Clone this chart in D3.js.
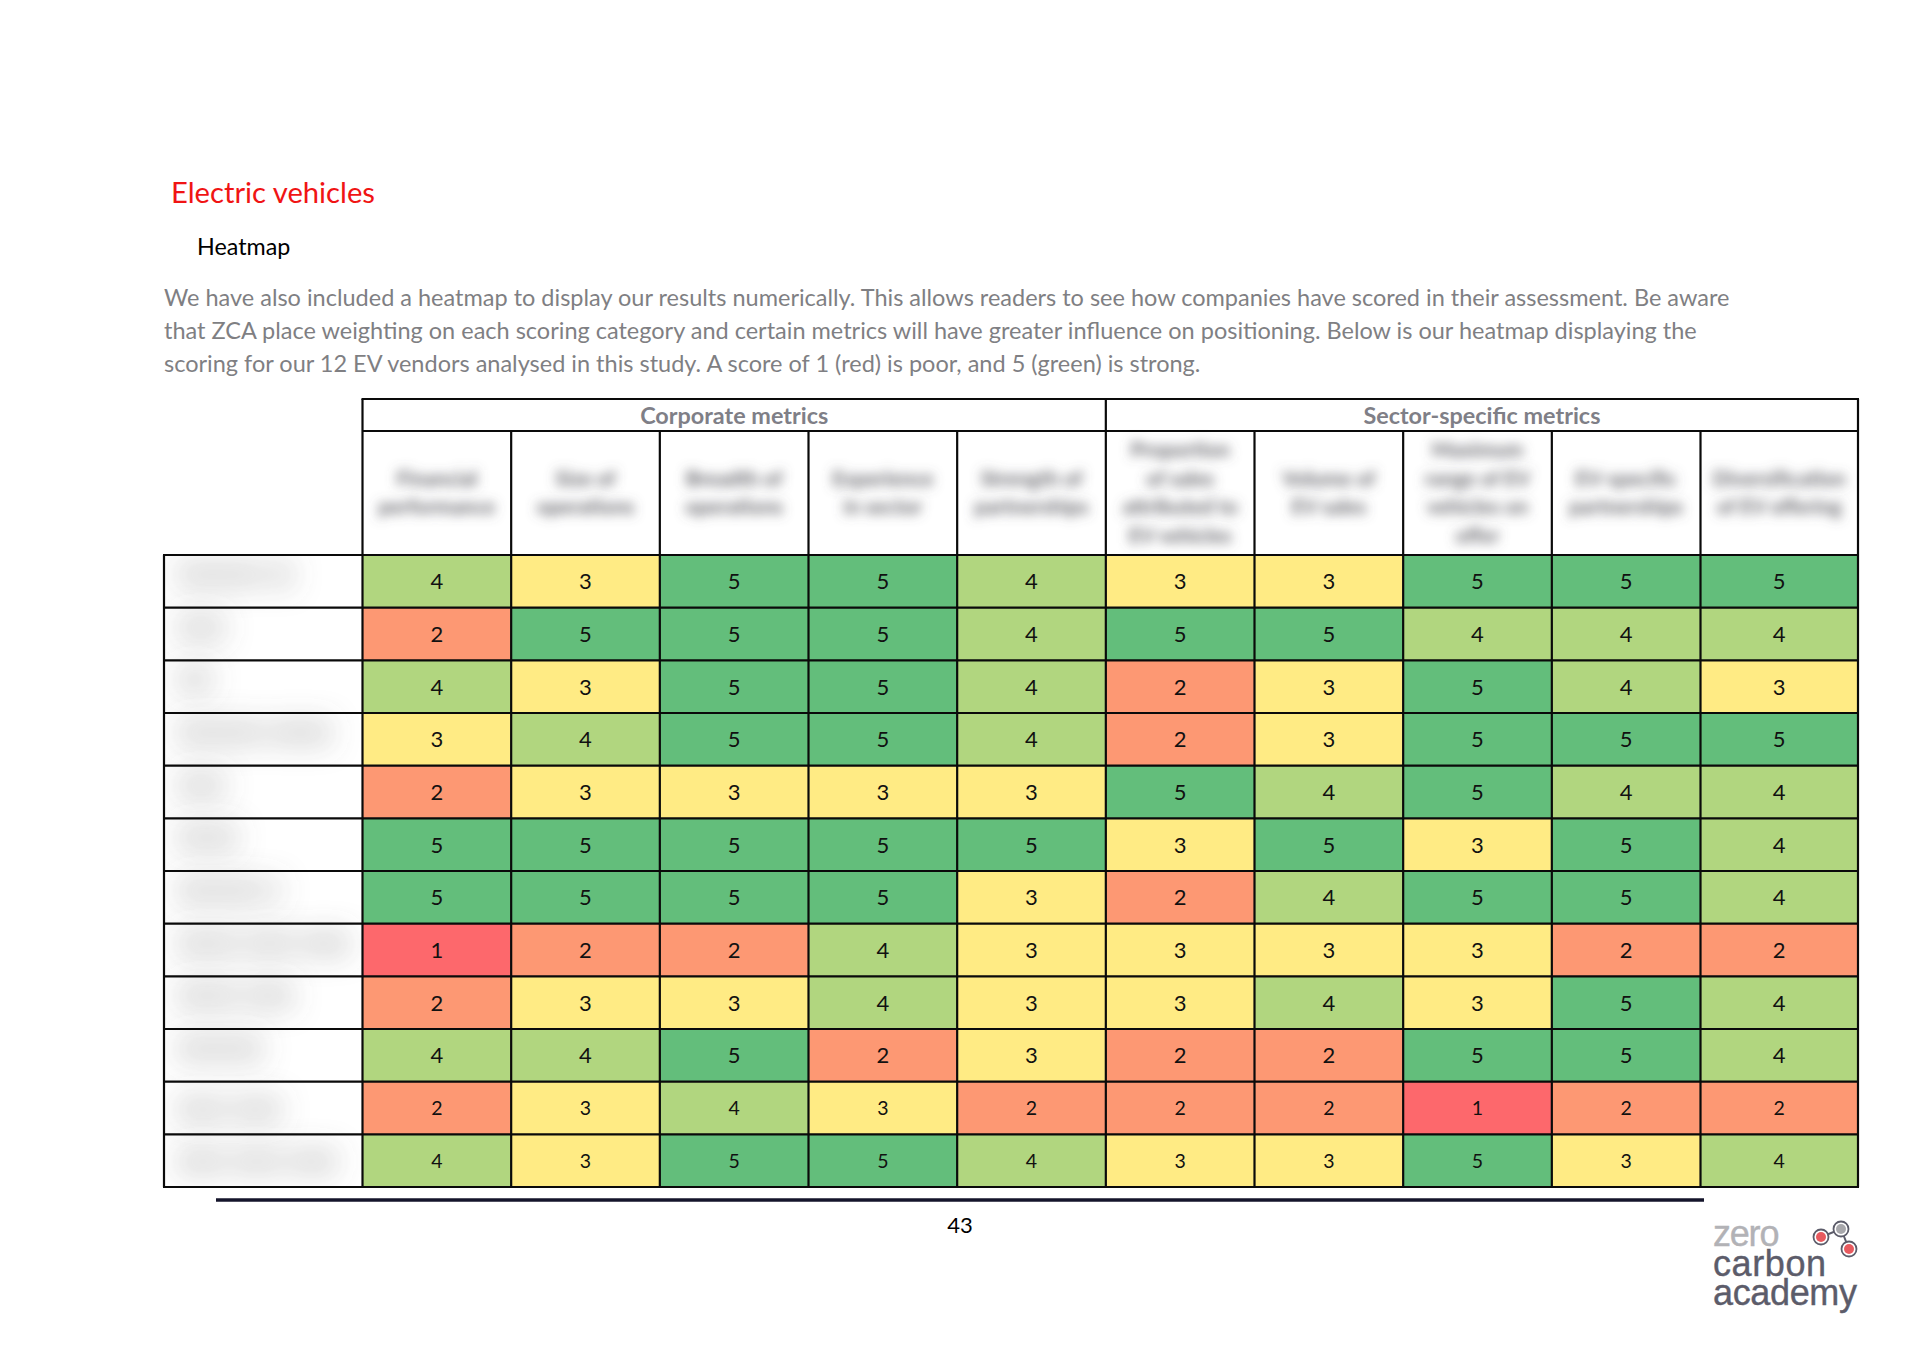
<!DOCTYPE html>
<html>
<head>
<meta charset="utf-8">
<title>Electric vehicles heatmap</title>
<script src="https://cdn.jsdelivr.net/npm/d3@7"></script>
<style>
  html, body { margin: 0; padding: 0; background: #fff; }
  text { font-family: Lato, sans-serif; }
</style>
</head>
<body>
<div id="chart"></div>
<script>
var introLines = [
  "We have also included a heatmap to display our results numerically. This allows readers to see how companies have scored in their assessment. Be aware",
  "that ZCA place weighting on each scoring category and certain metrics will have greater influence on positioning. Below is our heatmap displaying the",
  "scoring for our 12 EV vendors analysed in this study. A score of 1 (red) is poor, and 5 (green) is strong."
];

// group headers, each spanning a number of metric columns
var groupNames = ["Corporate metrics", "Sector-specific metrics"];
var groupSpans = [5, 5];

// the column headers are blurred in the source, wording is a best guess
var metricLabels = [
  ["Financial", "performance"],
  ["Size of", "operations"],
  ["Breadth of", "operations"],
  ["Experience", "in sector"],
  ["Strength of", "partnerships"],
  ["Proportion", "of sales", "attributed to", "EV vehicles"],
  ["Volume of", "EV sales"],
  ["Maximum", "range of EV", "vehicles on", "offer"],
  ["EV-specific", "partnerships"],
  ["Diversification", "of EV offering"]
];

// vendor names can't be read in the source, these only hold the blurred length
var vendorLabels = [
  "xxxxxxx xx",
  "xxxx",
  "xxx",
  "xxxxxxx xxxxx",
  "xxxx",
  "xxxxx",
  "xxxxxxx x",
  "xxxxx xxxx xxxx",
  "xxxxx xxxx",
  "xxxxxxx",
  "xxxx xxxx",
  "xxxx xxxx xxxx"
];

var scores = [
  [4, 3, 5, 5, 4, 3, 3, 5, 5, 5],
  [2, 5, 5, 5, 4, 5, 5, 4, 4, 4],
  [4, 3, 5, 5, 4, 2, 3, 5, 4, 3],
  [3, 4, 5, 5, 4, 2, 3, 5, 5, 5],
  [2, 3, 3, 3, 3, 5, 4, 5, 4, 4],
  [5, 5, 5, 5, 5, 3, 5, 3, 5, 4],
  [5, 5, 5, 5, 3, 2, 4, 5, 5, 4],
  [1, 2, 2, 4, 3, 3, 3, 3, 2, 2],
  [2, 3, 3, 4, 3, 3, 4, 3, 5, 4],
  [4, 4, 5, 2, 3, 2, 2, 5, 5, 4],
  [2, 3, 4, 3, 2, 2, 2, 1, 2, 2],
  [4, 3, 5, 5, 4, 3, 3, 5, 3, 4]
];

var scoreLevels = [1, 2, 3, 4, 5];
var scoreColours = ["#fd686c", "#fd9873", "#ffeb84", "#b1d67f", "#63be7b"];

var width = 1920, height = 1351;

var svg = d3.select("#chart").append("svg")
  .attr("width", width)
  .attr("height", height)
  .attr("viewBox", "0 0 " + width + " " + height)
  .style("display", "block");

var defs = svg.append("defs");
defs.append("filter").attr("id", "blurHead")
  .attr("x", "-50%").attr("y", "-100%").attr("width", "200%").attr("height", "300%")
  .append("feGaussianBlur").attr("stdDeviation", 6);
defs.append("filter").attr("id", "blurName")
  .attr("x", "-150%").attr("y", "-200%").attr("width", "400%").attr("height", "500%")
  .append("feGaussianBlur").attr("stdDeviation", "14 16");

// scales. the last column is wider than the others, hence the piecewise x
var left = 164, right = 1858;
var top1 = 399, top2 = 431, top3 = 555, bottom = 1187;

var x = d3.scaleLinear()
  .domain([0, metricLabels.length - 1, metricLabels.length])
  .range([362.5, 1700.5, right]);

var y = d3.scaleBand()
  .domain(d3.range(vendorLabels.length))
  .range([top3, bottom]);

var colour = d3.scaleOrdinal().domain(scoreLevels).range(scoreColours);

// keeps the vendor smudges inside the label column
defs.append("clipPath").attr("id", "nameClip")
  .append("rect")
  .attr("x", left).attr("y", top3)
  .attr("width", x(0) - left).attr("height", bottom - top3);

// page text
svg.append("text")
  .attr("x", 171).attr("y", 203)
  .attr("fill", "#f01414")
  .style("font-size", "29.2px")
  .text("Electric vehicles");

svg.append("text")
  .attr("x", 197).attr("y", 254.5)
  .attr("fill", "#000")
  .style("font-size", "23.3px")
  .text("Heatmap");

svg.append("g").selectAll("text")
  .data(introLines)
  .enter().append("text")
  .attr("x", 164)
  .attr("y", function(d, i) { return 305.5 + i * 33; })
  .attr("fill", "#7f7f83")
  .style("font-size", "23.5px")
  .text(function(d) { return d; });

// heat cells
var rows = svg.append("g").selectAll("g")
  .data(scores)
  .enter().append("g")
  .attr("transform", function(d, i) { return "translate(0," + y(i) + ")"; });

rows.selectAll("rect")
  .data(function(d) { return d; })
  .enter().append("rect")
  .attr("x", function(d, i) { return x(i); })
  .attr("width", function(d, i) { return x(i + 1) - x(i); })
  .attr("height", y.bandwidth())
  .attr("fill", function(d) { return colour(d); });

rows.each(function(d, r) {
  d3.select(this).selectAll("text")
    .data(d)
    .enter().append("text")
    .attr("x", function(v, i) { return (x(i) + x(i + 1)) / 2; })
    .attr("y", y.bandwidth() / 2)
    .attr("dy", "0.36em")
    .attr("text-anchor", "middle")
    .attr("fill", "#111")
    .style("font-size", r >= 10 ? "19.5px" : "22px")
    .text(function(v) { return v; });
});

// blurred vendor names, the last two sit lower in their cells
svg.append("g")
  .attr("clip-path", "url(#nameClip)")
  .selectAll("text")
  .data(vendorLabels)
  .enter().append("text")
  .attr("x", 176)
  .attr("y", function(d, i) { return y(i) + (i >= 10 ? 34 : 26); })
  .attr("fill", "#666")
  .attr("filter", "url(#blurName)")
  .style("font-size", "24px")
  .style("font-weight", "700")
  .text(function(d) { return d; });

// blurred metric headers
var heads = svg.append("g").selectAll("g")
  .data(metricLabels)
  .enter().append("g");

heads.selectAll("text")
  .data(function(d, i) {
    return d.map(function(t, k) { return {t: t, k: k, n: d.length, col: i}; });
  })
  .enter().append("text")
  .attr("x", function(d) { return (x(d.col) + x(d.col + 1)) / 2; })
  .attr("y", function(d) { return (top2 + top3) / 2 + 7 + (d.k - (d.n - 1) / 2) * 28.7; })
  .attr("text-anchor", "middle")
  .attr("fill", "#606066")
  .attr("filter", "url(#blurHead)")
  .style("font-size", "20.5px")
  .style("font-weight", "700")
  .text(function(d) { return d.t; });

// group headers
var spanStart = 0;
groupNames.forEach(function(name, i) {
  var x0 = x(spanStart), x1 = x(spanStart + groupSpans[i]);
  svg.append("text")
    .attr("x", (x0 + x1) / 2)
    .attr("y", (top1 + top2) / 2 + 8.5)
    .attr("text-anchor", "middle")
    .attr("fill", "#7f7f87")
    .style("font-size", "23.4px")
    .style("font-weight", "700")
    .text(name);
  spanStart += groupSpans[i];
});

// grid lines
var grid = svg.append("g")
  .attr("stroke", "#0a0a0a")
  .attr("stroke-width", 2.2)
  .attr("fill", "none");

function hLine(yy, x0, x1) {
  grid.append("line").attr("x1", x0).attr("x2", x1).attr("y1", yy).attr("y2", yy);
}
function vLine(xx, y0, y1) {
  grid.append("line").attr("x1", xx).attr("x2", xx).attr("y1", y0).attr("y2", y1);
}

hLine(top1, x(0) - 1, right + 1);
hLine(top2, x(0), right);
y.domain().forEach(function(r) { hLine(y(r), left - 1, right); });
hLine(bottom, left - 1, right + 1);

vLine(left, top3, bottom);
d3.range(metricLabels.length + 1).forEach(function(c) {
  var isGroupEdge = c === 0 || c === groupSpans[0] || c === metricLabels.length;
  vLine(x(c), isGroupEdge ? top1 : top2, bottom);
});

// footer
svg.append("line")
  .attr("x1", 216).attr("x2", 1704)
  .attr("y1", 1200).attr("y2", 1200)
  .attr("stroke", "#14142b")
  .attr("stroke-width", 3.4);

svg.append("text")
  .attr("x", 960).attr("y", 1233)
  .attr("text-anchor", "middle")
  .attr("fill", "#000")
  .style("font-size", "22px")
  .text("43");

// logo
var logo = svg.append("g");

[["zero", 1246, "#b2b2b6", -1.2], ["carbon", 1276, "#5c5c6a", 0.6], ["academy", 1305, "#5c5c6a", -0.35]].forEach(function(d) {
  logo.append("text")
    .attr("x", 1713).attr("y", d[1])
    .attr("fill", d[2])
    .attr("stroke", d[2])
    .attr("stroke-width", 0.4)
    .style("letter-spacing", d[3] + "px")
    .style("font-family", "'Liberation Sans', sans-serif")
    .style("font-size", "36px")
    .text(d[0]);
});

var nodes = [[1821, 1237, "#e85a5f"], [1841, 1229, "#a8a8ac"], [1849, 1249, "#e85a5f"]];
logo.append("path")
  .attr("d", d3.line()(nodes.map(function(n) { return [n[0], n[1]]; })))
  .attr("fill", "none")
  .attr("stroke", "#5c5c6a")
  .attr("stroke-width", 2);
nodes.forEach(function(n) {
  logo.append("circle")
    .attr("cx", n[0]).attr("cy", n[1]).attr("r", 7.5)
    .attr("fill", "#fff")
    .attr("stroke", "#5c5c6a")
    .attr("stroke-width", 1.8);
  logo.append("circle")
    .attr("cx", n[0]).attr("cy", n[1]).attr("r", 5)
    .attr("fill", n[2]);
});
</script>
</body>
</html>
